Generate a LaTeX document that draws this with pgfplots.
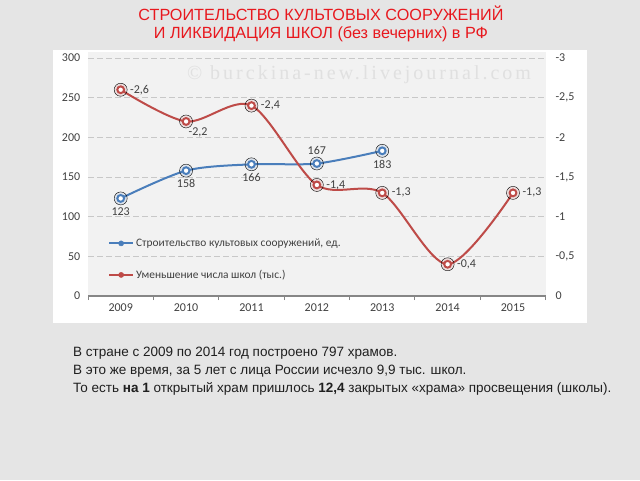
\documentclass[border=0pt]{standalone}
\usepackage{fontspec}
\setmainfont{Liberation Sans}
\newfontfamily\calib{Carlito}
\newfontfamily\wm[LetterSpace=15]{Liberation Serif}
\usepackage{pgfplots}
\pgfplotsset{compat=1.18}
\definecolor{bg}{RGB}{229,229,229}
\definecolor{plotbg}{RGB}{242,242,242}
\definecolor{blueS}{RGB}{74,126,187}
\definecolor{redS}{RGB}{190,75,72}
\definecolor{titleRed}{RGB}{232,24,30}
\definecolor{lbl}{RGB}{64,64,64}
\definecolor{axisgray}{RGB}{134,134,134}
\definecolor{gridgray}{RGB}{200,200,200}
\definecolor{wmgray}{RGB}{224,224,224}

\begin{document}
\begin{tikzpicture}[x=1pt,y=1pt]
\fill[bg] (0pt,0pt) rectangle (640pt,480pt);
\fill[white] (53pt,157pt) rectangle (587pt,430pt);
\fill[plotbg] (88pt,184pt) rectangle (546pt,428pt);
\node[text=wmgray, font=\wm\fontsize{20}{24}\selectfont, inner sep=0] at (359pt,405pt) {© burckina-new.livejournal.com};

\node[text=titleRed, font=\fontsize{16.2}{18}\selectfont, anchor=base, inner sep=0] at (321pt,459.5pt) {СТРОИТЕЛЬСТВО КУЛЬТОВЫХ СООРУЖЕНИЙ};
\node[text=titleRed, font=\fontsize{16.2}{18}\selectfont, anchor=base, inner sep=0] at (321pt,441.5pt) {И ЛИКВИДАЦИЯ ШКОЛ (без вечерних) в РФ};

\begin{axis}[
  at={(88pt,184pt)}, anchor=south west, scale only axis,
  width=457.7pt, height=238pt,
  xmin=-0.5, xmax=6.5, ymin=0, ymax=300,
  axis x line*=bottom, axis y line*=left,
  x axis line style={draw=axisgray, line width=1.4pt, -},
  y axis line style={draw=none},
  xtick={0,1,2,3,4,5,6},
  xticklabels={2009,2010,2011,2012,2013,2014,2015},
  major x tick style={draw=none},
  minor xtick={-0.5,0.5,1.5,2.5,3.5,4.5,5.5,6.5},
  minor x tick style={draw=axisgray, line width=1pt},
  minor tick length=4pt,
  tick align=outside,
  ytick={0,50,100,150,200,250,300},
  major y tick style={draw=none},
  ymajorgrids,
  major grid style={draw=gridgray, line width=1pt, dash pattern=on 6pt off 3pt},
  ticklabel style={font=\calib\fontsize{12}{14}\selectfont, text=lbl},
  /pgf/number format/assume math mode=true,
  clip=false,
  legend style={at={(0.037,0.258)}, anchor=north west, draw=none, fill=none,
    font=\calib\fontsize{11.4}{14}\selectfont, text=lbl, row sep=18pt},
  legend cell align=left,
  lab/.style={draw=none, mark=none, nodes near coords, point meta=explicit symbolic,
    nodes near coords style={font=\calib\fontsize{12}{14}\selectfont, text=lbl}},
]
\addlegendimage{legend image code/.code={\draw[blueS, line width=2pt] (0pt,0pt) -- (24pt,0pt); \fill[blueS] (12pt,0pt) circle (2.6pt);}}
\addlegendentry{Строительство культовых сооружений, ед.}
\addlegendimage{legend image code/.code={\draw[redS, line width=2pt] (0pt,0pt) -- (24pt,0pt); \fill[redS] (12pt,0pt) circle (2.6pt);}}
\addlegendentry{Уменьшение числа школ (тыс.)}

\addplot[forget plot, only marks, mark=*, mark size=6.5pt, mark options={draw=none, fill=blueS, fill opacity=0.13}]
  coordinates {(0,123) (1,158) (2,166) (3,167) (4,183)};
\addplot[forget plot, blueS, line width=2pt, smooth,
  mark=*, mark size=3.4pt, mark options={fill=white, draw=blueS, line width=2pt}]
  coordinates {(0,123) (1,158) (2,166) (3,167) (4,183)};
\addplot[forget plot, lab, nodes near coords style={anchor=north, yshift=-5.5pt}]
  coordinates {(0,123) [123] (1,158) [158] (2,166) [166] (4,183) [183]};
\addplot[forget plot, lab, nodes near coords style={anchor=south, yshift=5pt}]
  coordinates {(3,167) [167]};
\end{axis}

\begin{axis}[
  at={(88pt,184pt)}, anchor=south west, scale only axis,
  width=457.7pt, height=238pt,
  xmin=-0.5, xmax=6.5, ymin=-3, ymax=0, y dir=reverse,
  axis x line=none, axis y line*=right,
  y axis line style={draw=none},
  ytick={-3,-2.5,-2,-1.5,-1,-0.5,0},
  yticklabels={{-3},{-2,5},{-2},{-1,5},{-1},{-0,5},{0}},
  major y tick style={draw=none},
  tick align=outside,
  yticklabel style={font=\calib\fontsize{12}{14}\selectfont, text=lbl, xshift=2pt},
  clip=false,
  lab/.style={draw=none, mark=none, nodes near coords, point meta=explicit symbolic,
    nodes near coords style={font=\calib\fontsize{12}{14}\selectfont, text=lbl}},
]
\addplot[only marks, mark=*, mark size=6.5pt, mark options={draw=none, fill=redS, fill opacity=0.13}]
  coordinates {(0,-2.6) (1,-2.2) (2,-2.4) (3,-1.4) (4,-1.3) (5,-0.4) (6,-1.3)};
\addplot[redS, line width=2pt, smooth,
  mark=*, mark size=3.4pt, mark options={fill=white, draw=redS, line width=2pt}]
  coordinates {(0,-2.6) (1,-2.2) (2,-2.4) (3,-1.4) (4,-1.3) (5,-0.4) (6,-1.3)};
\addplot[lab, nodes near coords style={anchor=west, xshift=6pt}]
  coordinates {(0,-2.6) [-2,6] (2,-2.4) [-2,4] (3,-1.4) [-1,4] (4,-1.3) [-1,3] (5,-0.4) [-0,4] (6,-1.3) [-1,3]};
\addplot[lab, nodes near coords style={anchor=north west, xshift=-1pt, yshift=-3pt}]
  coordinates {(1,-2.2) [-2,2]};
\end{axis}

\node[anchor=base west, inner sep=0, font=\fontsize{13.5}{16}\selectfont, text=black!88] at (73pt,123.3pt) {В стране с 2009 по 2014 год построено 797 храмов.};
\node[anchor=base west, inner sep=0, font=\fontsize{13.5}{16}\selectfont, text=black!88] at (73pt,105.3pt) {В это же время, за 5 лет с лица России исчезло 9,9 тыс. школ.};
\node[anchor=base west, inner sep=0, font=\fontsize{13.5}{16}\selectfont, text=black!88] at (73pt,87.3pt) {То есть \textbf{на 1} открытый храм пришлось \textbf{12,4} закрытых «храма» просвещения (школы).};
\end{tikzpicture}
\end{document}
